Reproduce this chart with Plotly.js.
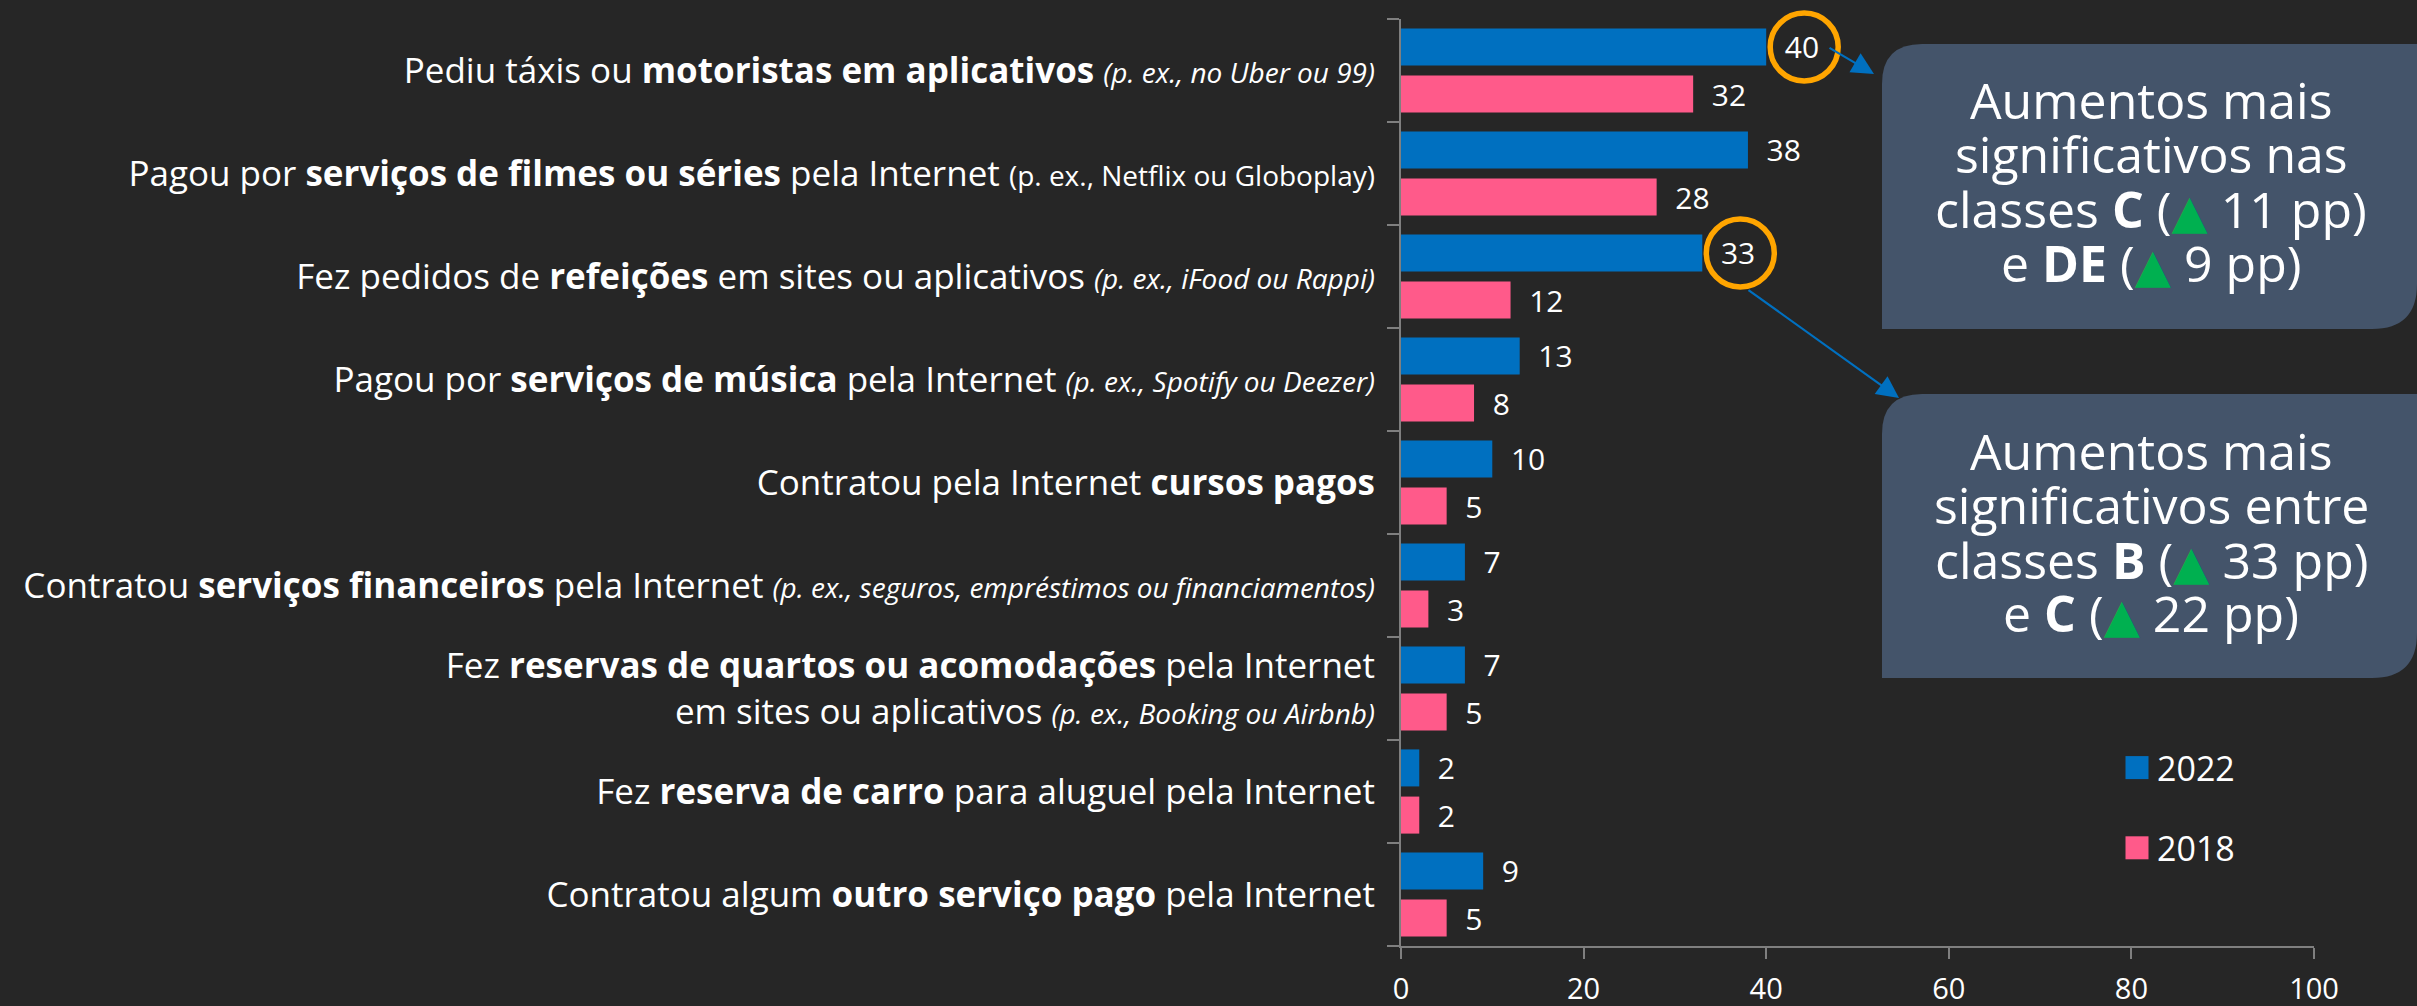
<!DOCTYPE html>
<html>
<head>
<meta charset="utf-8">
<script src="https://cdn.plot.ly/plotly-3.0.1.min.js"></script>
<style>html,body{margin:0;padding:0;background:#262626;}#chart{width:2417px;height:1006px;}</style>
</head>
<body>
<div id="chart"></div>
<script>
// ---------- DATA ----------
const categories = [
  "Pediu táxis ou motoristas em aplicativos",
  "Pagou por serviços de filmes ou séries pela Internet",
  "Fez pedidos de refeições em sites ou aplicativos",
  "Pagou por serviços de música pela Internet",
  "Contratou pela Internet cursos pagos",
  "Contratou serviços financeiros pela Internet",
  "Fez reservas de quartos ou acomodações pela Internet",
  "Fez reserva de carro para aluguel pela Internet",
  "Contratou algum outro serviço pago pela Internet"
];
const SM = '<span style="font-size:28px">';
const tickLabels = [
  'Pediu táxis ou <b>motoristas em aplicativos</b> ' + SM + '<i>(p. ex., no Uber ou 99)</i></span>',
  'Pagou por <b>serviços de filmes ou séries</b> pela Internet ' + SM + '(p. ex., Netflix ou Globoplay)</span>',
  'Fez pedidos de <b>refeições</b> em sites ou aplicativos ' + SM + '<i>(p. ex., iFood ou Rappi)</i></span>',
  'Pagou por <b>serviços de música</b> pela Internet ' + SM + '<i>(p. ex., Spotify ou Deezer)</i></span>',
  'Contratou pela Internet <b>cursos pagos</b>',
  'Contratou <b>serviços financeiros</b> pela Internet ' + SM + '<i>(p. ex., seguros, empréstimos ou financiamentos)</i></span>',
  'Fez <b>reservas de quartos ou acomodações</b> pela Internet<br>em sites ou aplicativos ' + SM + '<i>(p. ex., Booking ou Airbnb)</i></span>',
  'Fez <b>reserva de carro</b> para aluguel pela Internet',
  'Contratou algum <b>outro serviço pago</b> pela Internet'
];
const values2022 = [40, 38, 33, 13, 10, 7, 7, 2, 9];
const values2018 = [32, 28, 12, 8, 5, 3, 5, 2, 5];
const seriesNames = ["2022", "2018"];
const highlighted = [0, 2];   // 2022 values circled
const xTicks = [0, 20, 40, 60, 80, 100];
const UP = '<span style="color:#00B050;font-family:DejaVu Sans;font-size:47px">▲</span>';
const box1Lines = ['Aumentos mais', 'significativos nas', 'classes <b>C</b> (' + UP + ' 11 pp)', 'e <b>DE</b> (' + UP + ' 9 pp)'];
const box2Lines = ['Aumentos mais', 'significativos entre', 'classes <b>B</b> (' + UP + ' 33 pp)', 'e <b>C</b> (' + UP + ' 22 pp)'];

// ---------- LAYOUT GEOMETRY ----------
const WID = 2417, HEI = 1006;
const M = {l: 1401, r: 103, t: 19, b: 60};
const PW = WID - M.l - M.r, PH = HEI - M.t - M.b;
const X = px => (px - M.l) / PW;
const Y = py => (HEI - M.b - py) / PH;

const FONT = 'Open Sans, Noto Sans, sans-serif';
const BLUE = '#0070C0', PINK = '#FF5A8A', BOX = '#44546A', ORANGE = '#FFA500';

function boxPath(l, r, t, b, rtl, rbr) {
  return 'M' + X(l) + ',' + Y(t + rtl) +
    ' Q' + X(l) + ',' + Y(t) + ' ' + X(l + rtl) + ',' + Y(t) +
    ' L' + X(r) + ',' + Y(t) +
    ' L' + X(r) + ',' + Y(b - rbr) +
    ' Q' + X(r) + ',' + Y(b) + ' ' + X(r - rbr) + ',' + Y(b) +
    ' L' + X(l) + ',' + Y(b) + ' Z';
}

const data = [
  {type: 'bar', orientation: 'h', name: seriesNames[0], y: categories, x: values2022,
   marker: {color: BLUE}, legendgroup: 'a',
   text: values2022, texttemplate: '\u00a0\u00a0%{x}', textposition: 'outside',
   textfont: {color: '#FFFFFF', size: 30, family: FONT}, constraintext: 'none', cliponaxis: false,
   hoverinfo: 'skip'},
  {type: 'bar', orientation: 'h', name: seriesNames[1], y: categories, x: values2018,
   marker: {color: PINK}, legendgroup: 'b',
   text: values2018, texttemplate: '\u00a0\u00a0%{x}', textposition: 'outside',
   textfont: {color: '#FFFFFF', size: 30, family: FONT}, constraintext: 'none', cliponaxis: false,
   hoverinfo: 'skip'}
];

const shapes = [];
highlighted.forEach(i => {
  // y position of category i on the reversed category axis (range -0.5 .. n-0.5)
  const yCat = 1 - (i + 0.5) / categories.length;
  shapes.push({type: 'circle', xref: 'x', yref: 'paper', xsizemode: 'pixel', ysizemode: 'pixel',
    xanchor: values2022[i], yanchor: yCat, x0: 4, x1: 72, y0: -10.5, y1: 57.5,
    line: {color: ORANGE, width: 5.5}, layer: 'above'});
});
shapes.push({type: 'path', xref: 'paper', yref: 'paper', path: boxPath(1882, 2417, 44, 329, 40, 45),
  fillcolor: BOX, line: {width: 0}, layer: 'above'});
shapes.push({type: 'path', xref: 'paper', yref: 'paper', path: boxPath(1882, 2417, 394, 678, 40, 45),
  fillcolor: BOX, line: {width: 0}, layer: 'above'});

const annotations = [];
const lineCenters1 = [100.5, 154.5, 209.5, 262.5];
box1Lines.forEach((t, k) => annotations.push({xref: 'paper', yref: 'paper', x: X(2151), y: Y(lineCenters1[k]),
  text: t, showarrow: false, xanchor: 'center', yanchor: 'middle', font: {size: 50, color: '#FFFFFF', family: FONT}}));
box2Lines.forEach((t, k) => annotations.push({xref: 'paper', yref: 'paper', x: X(2151), y: Y(lineCenters1[k] + 350),
  text: t, showarrow: false, xanchor: 'center', yanchor: 'middle', font: {size: 50, color: '#FFFFFF', family: FONT}}));
// connecting arrows
annotations.push({xref: 'paper', yref: 'paper', x: X(1874), y: Y(74), ax: 1828 - 1874, ay: 47 - 74,
  text: '', showarrow: true, arrowhead: 2, arrowsize: 2, arrowwidth: 2.2, arrowcolor: BLUE, standoff: 0, startstandoff: 0});
annotations.push({xref: 'paper', yref: 'paper', x: X(1899), y: Y(398), ax: 1747 - 1899, ay: 289 - 398,
  text: '', showarrow: true, arrowhead: 2, arrowsize: 2, arrowwidth: 2.2, arrowcolor: BLUE, standoff: 0, startstandoff: 0});

const layout = {
  width: WID, height: HEI,
  margin: M,
  paper_bgcolor: '#262626', plot_bgcolor: '#262626',
  font: {family: FONT, color: '#FFFFFF'},
  barmode: 'group', bargap: 0.084, bargroupgap: 0.215,
  showlegend: true,
  legend: {x: X(2117), xanchor: 'left', y: Y(739), yanchor: 'top', traceorder: 'grouped', tracegroupgap: 33,
    font: {size: 34, color: '#FFFFFF', family: FONT}, bgcolor: 'rgba(0,0,0,0)'},
  xaxis: {range: [0, 100], tickvals: xTicks, ticktext: xTicks.map(String), showgrid: false, zeroline: false,
    showline: true, linecolor: '#7F7F7F', linewidth: 2, ticks: 'outside', ticklen: 11, tickwidth: 2, tickcolor: '#7F7F7F',
    tickfont: {size: 29, color: '#FFFFFF', family: FONT}, ticklabelstandoff: 5, fixedrange: true},
  yaxis: {type: 'category', autorange: 'reversed', tickvals: categories, ticktext: tickLabels, tickson: 'boundaries',
    showgrid: false, zeroline: false, showline: true, linecolor: '#7F7F7F', linewidth: 2,
    ticks: 'outside', ticklen: 12, tickwidth: 2, tickcolor: '#7F7F7F', ticklabelstandoff: 17,
    tickfont: {size: 35, color: '#FFFFFF', family: FONT}, automargin: false, fixedrange: true},
  shapes: shapes,
  annotations: annotations
};

Plotly.newPlot('chart', data, layout, {staticPlot: true, displayModeBar: false}).then(gd => {
  // enlarge the legend swatches (keep Plotly's own centring transform)
  gd.querySelectorAll('.legendpoints path').forEach(p => {
    p.setAttribute('d', 'M11.5,11.5H-11.5V-11.5H11.5Z');
  });
});
</script>
</body>
</html>
